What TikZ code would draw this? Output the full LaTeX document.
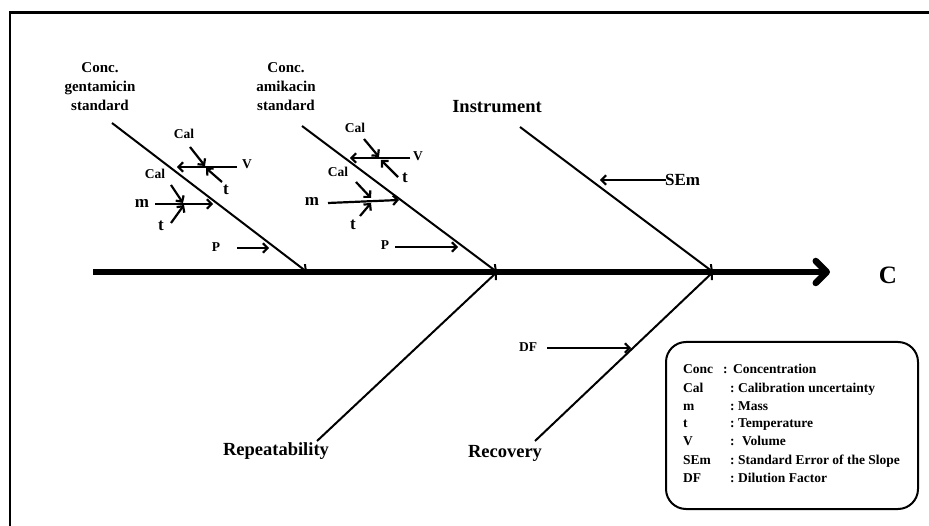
\documentclass[tikz,border=0pt]{standalone}
\usepackage{fontspec}
\setmainfont{Liberation Serif}
\usetikzlibrary{arrows.meta}
\tikzset{
  fr/.style={line width=2.5pt},
  spine/.style={line width=6.5pt,-{Straight Barb[length=11pt,width=22pt,line cap=round,line join=round]}},
  br/.style={line width=2pt,-{Straight Barb[length=5pt,width=10pt]}},
  ar/.style={line width=2.2pt,-{Straight Barb[length=4.5pt,width=9.5pt]}},
  big/.style={inner sep=0pt,font=\fontsize{18.5}{20}\selectfont\bfseries},
  cat/.style={inner sep=0pt,align=center,font=\fontsize{15}{19}\selectfont\bfseries},
  sm/.style={inner sep=0pt,font=\fontsize{13.5}{15}\selectfont\bfseries},
  md/.style={inner sep=0pt,font=\fontsize{17}{19}\selectfont\bfseries},
  leg/.style={inner sep=0pt,anchor=base west,font=\fontsize{13.5}{15}\selectfont\bfseries},
}
\begin{document}
\begin{tikzpicture}[x=1pt,y=-1pt]
\useasboundingbox (0,0) rectangle (929,526);
% frame
\coordinate (f1) at (10,526);
\coordinate (f2) at (10,12.5);
\coordinate (f3) at (929,12.5);
\draw[fr] (f1) -- (f2) -- (f3);
% spine
\coordinate (s0) at (93,272);
\coordinate (s1) at (830,272);
\draw[spine] (s0) -- (s1);
\node[inner sep=0pt,font=\fontsize{25}{28}\selectfont\bfseries] (C) at (888,275) {C};
% branch ends
\coordinate (jg) at (307,272);
\coordinate (ja) at (497,272);
\coordinate (ji) at (713,272);
\coordinate (g0) at (112,123);
\coordinate (a0) at (302,126);
\coordinate (i0) at (520,127);
\coordinate (r0) at (317,441);
\coordinate (v0) at (535,441);
\draw[br] (g0) -- (jg);
\draw[br] (a0) -- (ja);
\draw[br] (i0) -- (ji);
\draw[br] (r0) -- (ja);
\draw[br] (v0) -- (ji);
% category labels
\node[cat] (gl) at (100,87) {Conc.\\gentamicin\\standard};
\node[cat] (al) at (286,87) {Conc.\\amikacin\\standard};
\node[big] (il) at (497,107) {Instrument};
\node[big] (rl) at (276,451) {Repeatability};
\node[big] (vl) at (505,453) {Recovery};
% gentamicin sub-causes
\coordinate (gVs) at (237,167); \coordinate (gVe) at (177,167);
\coordinate (gC1s) at (190,147); \coordinate (gC1e) at (205,166);
\coordinate (gt1s) at (222,182); \coordinate (gt1e) at (206,168);
\coordinate (gms) at (155,204); \coordinate (gme) at (213,204);
\coordinate (gC2s) at (171,185); \coordinate (gC2e) at (183,203);
\coordinate (gt2s) at (171,223); \coordinate (gt2e) at (184,205);
\coordinate (gPs) at (237,248); \coordinate (gPe) at (269,248);
\draw[ar] (gVs) -- (gVe);
\draw[ar] (gC1s) -- (gC1e);
\draw[ar] (gt1s) -- (gt1e);
\draw[ar] (gms) -- (gme);
\draw[ar] (gC2s) -- (gC2e);
\draw[ar] (gt2s) -- (gt2e);
\draw[ar] (gPs) -- (gPe);
\node[sm] (gCal1) at (184,134) {Cal};
\node[sm] (gV) at (247,164) {V};
\node[md] (gt1) at (226,190) {t};
\node[md] (gm) at (142,203) {m};
\node[sm] (gCal2) at (155,174) {Cal};
\node[md] (gt2) at (161,226) {t};
\node[sm] (gP) at (216,247) {P};
% amikacin sub-causes
\coordinate (aVs) at (410,158); \coordinate (aVe) at (350,158);
\coordinate (aC1s) at (364,139); \coordinate (aC1e) at (379,157);
\coordinate (at1s) at (398,177); \coordinate (at1e) at (381,160);
\coordinate (ams) at (328,203); \coordinate (ame) at (399,200);
\coordinate (aC2s) at (356,182); \coordinate (aC2e) at (371,198);
\coordinate (at2s) at (360,216); \coordinate (at2e) at (371,203);
\coordinate (aPs) at (395,247); \coordinate (aPe) at (458,247);
\draw[ar] (aVs) -- (aVe);
\draw[ar] (aC1s) -- (aC1e);
\draw[ar] (at1s) -- (at1e);
\draw[ar] (ams) -- (ame);
\draw[ar] (aC2s) -- (aC2e);
\draw[ar] (at2s) -- (at2e);
\draw[ar] (aPs) -- (aPe);
\node[sm] (aCal1) at (355,128) {Cal};
\node[sm] (aV) at (418,156) {V};
\node[md] (at1) at (405,178) {t};
\node[md] (am) at (312,201) {m};
\node[sm] (aCal2) at (338,172) {Cal};
\node[md] (at2) at (353,225) {t};
\node[sm] (aP) at (385,245) {P};
% instrument / recovery sub-causes
\coordinate (sEs) at (666,180); \coordinate (sEe) at (600,180);
\draw[ar] (sEs) -- (sEe);
\node[md,anchor=west] (sem) at (665,180) {SEm};
\coordinate (dFs) at (547,348); \coordinate (dFe) at (631,348);
\draw[ar] (dFs) -- (dFe);
\node[sm] (df) at (528,347) {DF};
% legend
\node[draw,line width=2pt,rounded corners=20pt,minimum width=252pt,minimum height=167pt,inner sep=0pt] (legend) at (792,425.5) {};
\node[leg] (k1) at (683,374) {Conc};
\node[leg] (c1) at (723,374) {:};
\node[leg] (d1) at (733,374) {Concentration};
\node[leg] (k2) at (683,392) {Cal};
\node[leg] (c2) at (730,392) {:};
\node[leg] (d2) at (738,392) {Calibration uncertainty};
\node[leg] (k3) at (683,410) {m};
\node[leg] (c3) at (730,410) {:};
\node[leg] (d3) at (738,410) {Mass};
\node[leg] (k4) at (683,428) {t};
\node[leg] (c4) at (730,428) {:};
\node[leg] (d4) at (738,428) {Temperature};
\node[leg] (k5) at (683,446) {V};
\node[leg] (c5) at (730,446) {:};
\node[leg] (d5) at (742,446) {Volume};
\node[leg] (k6) at (683,464) {SEm};
\node[leg] (c6) at (730,464) {:};
\node[leg] (d6) at (738,464) {Standard Error of the Slope};
\node[leg] (k7) at (683,482) {DF};
\node[leg] (c7) at (730,482) {:};
\node[leg] (d7) at (738,482) {Dilution Factor};
\end{tikzpicture}
\end{document}
